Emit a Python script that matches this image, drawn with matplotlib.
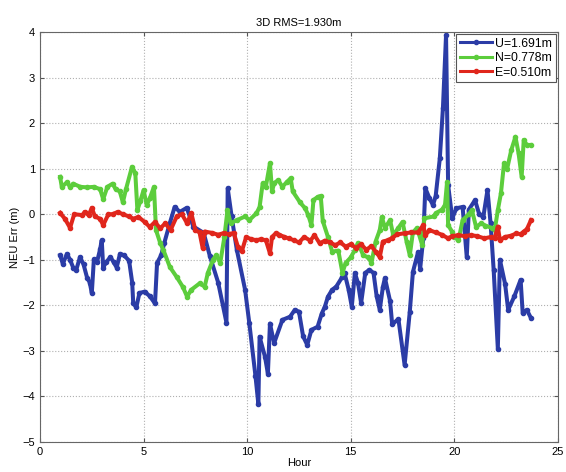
import matplotlib
matplotlib.use('Agg')
import matplotlib.pyplot as plt

# hour / error samples
u_hour = [0.97, 1.1, 1.3, 1.45, 1.6, 1.75, 1.93, 2.1, 2.27, 2.4, 2.5, 2.6, 2.75, 2.9, 2.98, 3.05,
          3.2, 3.4, 3.55, 3.7, 3.86, 4.05, 4.3, 4.45, 4.5, 4.65, 4.8, 5.05, 5.3, 5.55, 5.65, 5.85,
          6.0, 6.27, 6.5, 6.75, 7.08, 7.4, 7.9, 8.2, 8.6, 9.0, 9.06, 9.25, 9.5, 9.9, 10.1, 10.4,
          10.54, 10.6, 10.86, 11.0, 11.1, 11.3, 11.7, 12.07, 12.3, 12.5, 12.7, 12.9, 13.1, 13.4,
          13.6, 13.75, 13.9, 14.1, 14.3, 14.6, 14.7, 14.9, 15.05, 15.2, 15.35, 15.5, 15.7, 15.9,
          16.1, 16.25, 16.4, 16.55, 16.65, 16.9, 17.0, 17.3, 17.6, 17.85, 18.0, 18.25, 18.35, 18.5,
          18.6, 18.8, 18.97, 19.1, 19.3, 19.45, 19.6, 19.7, 19.9, 20.1, 20.4, 20.6, 20.7, 21.0,
          21.2, 21.4, 21.6, 21.75, 21.9, 22.1, 22.2, 22.45, 22.6, 22.9, 23.2, 23.3, 23.5, 23.7]
u_err = [-0.9, -1.09, -0.87, -1.0, -1.17, -1.22, -0.94, -1.1, -1.39, -1.5, -1.73, -0.99, -1.05,
         -0.77, -0.57, -1.17, -1.05, -0.94, -1.05, -1.17, -0.87, -0.9, -1.02, -1.5, -1.96, -2.04,
         -1.73, -1.7, -1.8, -1.96, -1.07, -0.9, -0.63, -0.19, 0.16, 0.05, 0.14, -0.27, -0.41,
         -0.92, -1.5, -2.38, 0.57, -0.05, -0.78, -1.66, -2.38, -3.55, -4.17, -2.69, -3.13, -3.5,
         -2.4, -2.83, -2.32, -2.25, -2.1, -2.14, -2.68, -2.87, -2.54, -2.47, -2.18, -2.03, -1.81,
         -1.66, -1.59, -1.37, -1.29, -1.66, -2.03, -1.29, -1.51, -1.95, -1.29, -1.22, -1.29, -1.8,
         -2.1, -1.6, -1.4, -1.91, -2.42, -2.3, -3.31, -2.14, -1.27, -0.83, -1.2, -0.53, 0.57,
         0.35, 0.2, 0.4, 1.23, 2.33, 3.93, 0.64, -0.09, 0.13, 0.16, -0.94, 0.1, 0.31, 0.0, -0.06,
         0.53, -0.2, -1.23, -2.95, -1.0, -1.53, -2.1, -1.8, -1.44, -2.17, -2.1, -2.28]

n_hour = [0.97, 1.05, 1.3, 1.45, 1.6, 1.95, 2.27, 2.6, 2.9, 3.05, 3.25, 3.5, 3.65, 3.85, 4.0,
          4.15, 4.44, 4.6, 4.7, 4.85, 5.0, 5.15, 5.3, 5.5, 5.6, 5.8, 5.95, 6.27, 6.6, 6.9, 7.1,
          7.3, 7.7, 7.95, 8.1, 8.35, 8.5, 8.7, 8.9, 9.05, 9.2, 9.5, 9.9, 10.1, 10.45, 10.6, 10.75,
          10.9, 11.1, 11.2, 11.3, 11.5, 11.7, 11.9, 12.1, 12.2, 12.55, 12.8, 12.95, 13.1, 13.2,
          13.4, 13.55, 13.65, 13.9, 14.1, 14.4, 14.6, 14.75, 15.0, 15.2, 15.35, 15.6, 15.85, 16.0,
          16.2, 16.4, 16.5, 16.65, 16.9, 17.05, 17.3, 17.5, 17.7, 17.85, 18.0, 18.2, 18.45, 18.55,
          19.0, 19.1, 19.4, 19.55, 19.65, 19.7, 19.9, 20.0, 20.2, 20.4, 20.7, 20.85, 21.05, 21.3,
          21.5, 21.8, 21.95, 22.1, 22.25, 22.4, 22.55, 22.75, 22.95, 23.1, 23.25, 23.35, 23.5, 23.7]
n_err = [0.82, 0.6, 0.7, 0.6, 0.67, 0.6, 0.59, 0.6, 0.55, 0.33, 0.6, 0.67, 0.55, 0.5, 0.26,
         0.55, 1.04, 0.9, 0.09, 0.3, 0.53, 0.2, 0.35, 0.6, -0.35, -0.63, -0.78, -1.16, -1.38,
         -1.6, -1.81, -1.66, -1.52, -1.59, -1.29, -1.0, -0.9, -1.07, -0.5, 0.09, -0.2, -0.13,
         -0.05, -0.13, 0.02, 0.16, 0.68, 0.6, 1.12, 0.5, 0.68, 0.75, 0.6, 0.7, 0.79, 0.5, 0.26,
         0.13, -0.02, -0.24, 0.31, 0.38, 0.4, -0.15, -0.5, -0.82, -0.8, -1.29, -1.07, -0.95,
         -0.78, -0.63, -0.9, -0.95, -1.07, -0.6, -0.35, -0.06, -0.3, -0.13, -0.46, -0.3, -0.17,
         -0.61, -0.9, -0.4, -0.3, -0.68, -0.09, -0.05, 0.02, 0.1, 0.2, 0.71, -0.24, -0.39, -0.5,
         -0.57, -0.13, 0.0, 0.09, -0.28, -0.2, -0.25, -0.3, -0.35, 0.09, 0.46, 1.12, 1.0, 1.41,
         1.7, 1.34, 0.82, 1.63, 1.52, 1.52]

e_hour = [0.97, 1.2, 1.45, 1.65, 2.05, 2.15, 2.35, 2.5, 2.65, 2.9, 3.05, 3.3, 3.5, 3.75, 4.0,
          4.3, 4.5, 4.75, 5.05, 5.3, 5.55, 5.8, 6.05, 6.3, 6.6, 6.85, 7.1, 7.3, 7.5, 7.7, 7.85,
          7.95, 8.3, 8.6, 8.9, 9.1, 9.35, 9.55, 9.75, 9.95, 10.2, 10.45, 10.65, 10.9, 11.1, 11.2,
          11.4, 11.55, 11.8, 12.0, 12.25, 12.5, 12.75, 13.05, 13.25, 13.5, 13.75, 14.0, 14.25,
          14.5, 14.75, 15.0, 15.25, 15.5, 15.75, 16.0, 16.2, 16.4, 16.55, 16.8, 17.0, 17.25, 17.6,
          17.9, 18.25, 18.5, 18.6, 18.8, 19.1, 19.4, 19.7, 19.9, 20.2, 20.5, 20.8, 21.1, 21.45,
          21.75, 21.95, 22.1, 22.2, 22.45, 22.75, 23.0, 23.2, 23.35, 23.5, 23.7]
e_err = [0.03, -0.1, -0.3, 0.0, -0.02, 0.05, -0.02, 0.14, -0.05, -0.1, -0.24, 0.0, 0.0, 0.05,
         0.0, -0.05, -0.1, -0.06, -0.17, -0.28, -0.17, -0.31, -0.2, -0.35, -0.05, 0.0, -0.2, 0.03,
         -0.35, -0.4, -0.74, -0.38, -0.41, -0.45, -0.41, -0.44, -0.41, -0.71, -0.8, -0.5, -0.55,
         -0.57, -0.55, -0.57, -0.86, -0.5, -0.41, -0.45, -0.5, -0.53, -0.57, -0.62, -0.5, -0.58,
         -0.46, -0.64, -0.58, -0.62, -0.68, -0.62, -0.71, -0.66, -0.74, -0.66, -0.78, -0.7, -0.82,
         -0.94, -0.6, -0.57, -0.52, -0.44, -0.42, -0.4, -0.4, -0.24, -0.46, -0.35, -0.4, -0.45,
         -0.53, -0.48, -0.46, -0.48, -0.46, -0.48, -0.53, -0.5, -0.52, -0.27, -0.57, -0.5, -0.47,
         -0.42, -0.44, -0.38, -0.33, -0.13]

labels = ['U=1.691m', 'N=0.778m', 'E=0.510m']
colors = ['#2b3ca6', '#5ccd3c', '#e0261c']

plt.rcParams['font.family'] = ['Liberation Sans', 'DejaVu Sans']
fig = plt.figure(figsize=(5.66, 4.72), dpi=100)
ax = fig.add_axes([0.0707, 0.0636, 0.915, 0.8686])

for xs, ys, lab, c in zip([u_hour, n_hour, e_hour], [u_err, n_err, e_err], labels, colors):
    ax.plot(xs, ys, '-', color=c, lw=2.9, marker='.', ms=6, label=lab)

ax.set_xlim(0, 25)
ax.set_ylim(-5, 4)
ax.set_xticks(range(0, 26, 5))
ax.set_yticks(range(-5, 5))
ax.grid(True, linestyle=':', color='#b0b0b0', linewidth=0.8)
ax.tick_params(direction='in', labelsize=8, length=3, top=True, right=True, color='#555555')
for s in ax.spines.values():
    s.set_color('#666666')
ax.set_title('3D RMS=1.930m', fontsize=8, pad=4)
ax.set_xlabel('Hour', fontsize=8, labelpad=1)
ax.set_ylabel('NEU Err (m)', fontsize=8, labelpad=2)
leg = ax.legend(loc='upper right', bbox_to_anchor=(0.996, 0.995), borderaxespad=0, fontsize=8.8,
                fancybox=False, framealpha=1, edgecolor='#555555', handlelength=2.6,
                handletextpad=0.3, labelspacing=0.2, borderpad=0.3)
leg.get_frame().set_linewidth(0.8)
for h in leg.get_lines():
    h.set_linewidth(2.2)

fig.savefig('out.png', dpi=100)
